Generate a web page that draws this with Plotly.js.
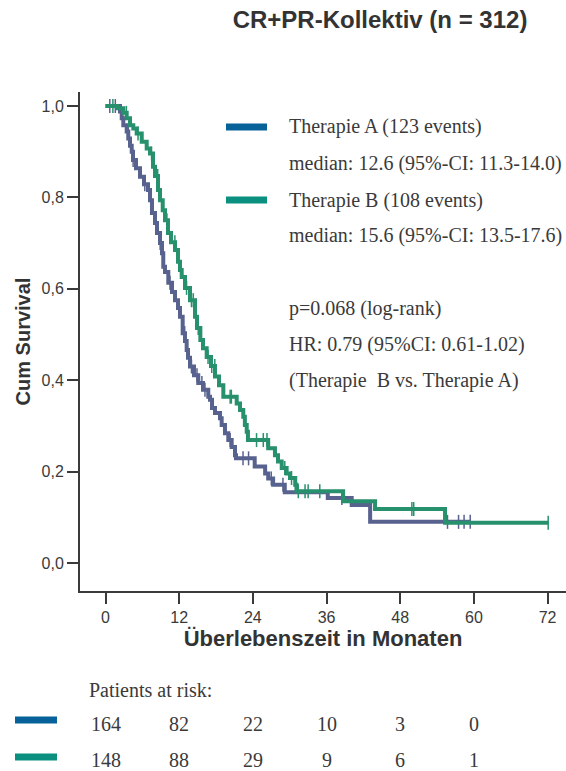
<!DOCTYPE html>
<html>
<head>
<meta charset="utf-8">
<script src="https://cdn.plot.ly/plotly-3.0.1.min.js"></script>
<style>
  html, body { margin: 0; padding: 0; background: #fff; }
  #chart { width: 566px; height: 771px; }
</style>
</head>
<body>
<div id="chart"></div>
<script>
// ---- data ----
const chartTitle = 'CR+PR-Kollektiv (n = 312)';
const xTitle = 'Überlebenszeit in Monaten';
const yTitle = 'Cum Survival';
const xTickVals = [0, 12, 24, 36, 48, 60, 72];
const yTickVals = [0, 0.2, 0.4, 0.6, 0.8, 1.0];
const yTickText = ['0,0', '0,2', '0,4', '0,6', '0,8', '1,0'];

// Therapie A (Kaplan-Meier steps: time of drop, survival after drop)
const timeA = [0, 2.36, 2.64, 2.90, 3.45, 3.71, 3.99, 4.27, 4.48, 4.97, 5.62, 6.27, 6.92, 7.25, 7.57, 8.06, 8.39, 8.88, 9.20, 9.41, 9.69, 10.23, 10.83, 11.32, 11.81, 12.13, 12.57, 12.95, 13.22, 13.44, 13.76, 14.41, 15.11, 15.88, 16.74, 17.02, 17.35, 17.83, 18.65, 18.92, 19.46, 20.00, 20.55, 21.09, 21.25, 24.3, 26.0, 26.5, 27.3, 29.2, 36.2, 40.1, 43.1, 59.4];
const survA = [1.0, 0.988, 0.973, 0.958, 0.944, 0.929, 0.913, 0.900, 0.882, 0.864, 0.845, 0.829, 0.816, 0.794, 0.766, 0.744, 0.722, 0.700, 0.678, 0.648, 0.637, 0.613, 0.593, 0.575, 0.558, 0.539, 0.503, 0.486, 0.466, 0.449, 0.430, 0.411, 0.394, 0.379, 0.364, 0.357, 0.339, 0.328, 0.317, 0.302, 0.284, 0.269, 0.254, 0.236, 0.229, 0.211, 0.196, 0.185, 0.171, 0.155, 0.142, 0.127, 0.090, 0.090];
const censA = [0.7, 1.6, 3.7, 4.5, 6.4, 8.9, 9.4, 10.5, 12.9, 14.0, 14.9, 15.7, 16.2, 20.3, 22.4, 23.3, 27.0, 28.9, 38.5, 55.7, 57.5, 58.4, 59.4];

// Therapie B
const timeB = [0, 1.9, 2.90, 3.45, 3.99, 4.53, 5.08, 5.90, 6.71, 7.25, 7.74, 8.06, 8.55, 8.88, 9.32, 9.69, 10.18, 10.67, 11.32, 11.81, 12.13, 12.41, 12.95, 13.76, 14.58, 14.90, 15.45, 15.88, 16.48, 17.18, 17.83, 18.49, 19.19, 21.37, 21.91, 22.44, 22.7, 23.0, 23.2, 26.5, 27.6, 28.1, 28.7, 29.5, 30.05, 30.9, 31.1, 38.7, 43.9, 55.3, 72.1];
const survB = [1.0, 0.995, 0.985, 0.973, 0.958, 0.951, 0.940, 0.922, 0.907, 0.896, 0.867, 0.847, 0.816, 0.794, 0.772, 0.750, 0.722, 0.702, 0.685, 0.659, 0.641, 0.626, 0.602, 0.575, 0.539, 0.514, 0.488, 0.470, 0.451, 0.431, 0.408, 0.389, 0.364, 0.349, 0.335, 0.320, 0.302, 0.287, 0.269, 0.251, 0.236, 0.222, 0.208, 0.196, 0.186, 0.171, 0.157, 0.135, 0.118, 0.088, 0.088];
const censB = [1.2, 3.4, 5.3, 7.5, 8.5, 10.0, 11.3, 13.2, 14.0, 14.3, 15.1, 16.7, 17.3, 17.8, 20.3, 20.5, 23.0, 24.6, 25.7, 26.3, 29.2, 30.3, 31.4, 32.5, 33.0, 34.9, 49.9, 50.2, 72.1];

// legend / statistics text
const legendLines = [
  'Therapie A (123 events)',
  'median: 12.6 (95%-CI: 11.3-14.0)',
  'Therapie B (108 events)',
  'median: 15.6 (95%-CI: 13.5-17.6)',
  'p=0.068 (log-rank)',
  'HR: 0.79 (95%CI: 0.61-1.02)',
  '(Therapie  B vs. Therapie A)'
];

// patients at risk
const riskLabel = 'Patients at risk:';
const riskTimes = [0, 12, 24, 36, 48, 60];
const riskA = [164, 82, 22, 10, 3, 0];
const riskB = [148, 88, 29, 9, 6, 1];

// ---- styles ----
const colA = '#58628f', colB = '#27906d';
const swA = '#08629a', swB = '#0b9080';
const W = 566, H = 771;
const M = {l: 80, r: 0, t: 92, b: 180};
const plotW = W - M.l - M.r, plotH = H - M.t - M.b;
const px2x = p => (p - M.l) / plotW;
const py2y = p => (H - M.b - p) / plotH;

function stepAt(ts, ss, t) {
  let v = ss[0];
  for (let i = 0; i < ts.length; i++) { if (ts[i] <= t) v = ss[i]; }
  return v;
}

const traces = [
  {x: timeA, y: survA, mode: 'lines', line: {shape: 'hv', color: colA, width: 4}, hoverinfo: 'skip'},
  {x: censA, y: censA.map(t => stepAt(timeA, survA, t)), mode: 'markers',
   marker: {symbol: 'line-ns-open', size: 10, color: colA, line: {color: colA, width: 1.5}}, hoverinfo: 'skip'},
  {x: timeB, y: survB, mode: 'lines', line: {shape: 'hv', color: colB, width: 4}, hoverinfo: 'skip'},
  {x: censB, y: censB.map(t => stepAt(timeB, survB, t)), mode: 'markers',
   marker: {symbol: 'line-ns-open', size: 10, color: colB, line: {color: colB, width: 1.5}}, hoverinfo: 'skip'}
];

const serif = {family: 'Liberation Serif, Times New Roman, serif', size: 20, color: '#3a3a3a'};
const annotations = [];
const legendY = [127, 163, 200, 236, 308, 344, 380];
legendLines.forEach((txt, i) => {
  annotations.push({xref: 'paper', yref: 'paper', x: px2x(287), y: py2y(legendY[i]),
    xanchor: 'left', yanchor: 'middle', text: txt, showarrow: false, font: serif});
});
annotations.push({xref: 'paper', yref: 'paper', x: px2x(87), y: py2y(690),
  xanchor: 'left', yanchor: 'middle', text: riskLabel, showarrow: false, font: serif});
riskTimes.forEach((t, i) => {
  annotations.push({xref: 'x', yref: 'paper', x: t, y: py2y(724), xanchor: 'center', yanchor: 'middle',
    text: String(riskA[i]), showarrow: false, font: serif});
  annotations.push({xref: 'x', yref: 'paper', x: t, y: py2y(760), xanchor: 'center', yanchor: 'middle',
    text: String(riskB[i]), showarrow: false, font: serif});
});

const shapes = [
  {type: 'line', xref: 'paper', yref: 'paper', x0: px2x(226), x1: px2x(267), y0: py2y(127), y1: py2y(127), line: {color: swA, width: 7}},
  {type: 'line', xref: 'paper', yref: 'paper', x0: px2x(226), x1: px2x(267), y0: py2y(200), y1: py2y(200), line: {color: swB, width: 7}},
  {type: 'line', xref: 'paper', yref: 'paper', x0: px2x(15), x1: px2x(57), y0: py2y(720), y1: py2y(720), line: {color: swA, width: 7}},
  {type: 'line', xref: 'paper', yref: 'paper', x0: px2x(15), x1: px2x(57), y0: py2y(757), y1: py2y(757), line: {color: swB, width: 7}}
];

const sans = 'Liberation Sans, Arial, sans-serif';
const layout = {
  width: W, height: H, margin: M,
  paper_bgcolor: '#fff', plot_bgcolor: '#fff',
  showlegend: false,
  title: {text: '<b>' + chartTitle + '</b>', x: 380 / W, xanchor: 'center', xref: 'container',
          y: 1 - 20 / H, yanchor: 'middle', font: {family: sans, size: 24, color: '#333'}},
  xaxis: {
    range: [-(105.5 - M.l) / 6.14, (W - 105.5) / 6.14],
    tickvals: xTickVals, ticks: 'outside', ticklen: 11, tickwidth: 2, tickcolor: '#3a3a3a',
    showline: true, linecolor: '#3a3a3a', linewidth: 2, showgrid: false, zeroline: false,
    tickfont: {family: sans, size: 16, color: '#3a3a3a'},
    title: {text: '<b>' + xTitle + '</b>', font: {family: sans, size: 22, color: '#333'}, standoff: 4},
    fixedrange: true
  },
  yaxis: {
    range: [-(H - M.b - 563) / 457, (563 - M.t) / 457],
    tickvals: yTickVals, ticktext: yTickText, ticks: 'outside', ticklen: 11, tickwidth: 2, tickcolor: '#3a3a3a',
    showline: true, linecolor: '#3a3a3a', linewidth: 2, showgrid: false, zeroline: false,
    tickfont: {family: sans, size: 16, color: '#3a3a3a'},
    title: {text: '<b>' + yTitle + '</b>', font: {family: sans, size: 20, color: '#333'}, standoff: 6},
    fixedrange: true
  },
  annotations: annotations,
  shapes: shapes
};

Plotly.newPlot('chart', traces, layout, {displayModeBar: false, staticPlot: true});
</script>
</body>
</html>
